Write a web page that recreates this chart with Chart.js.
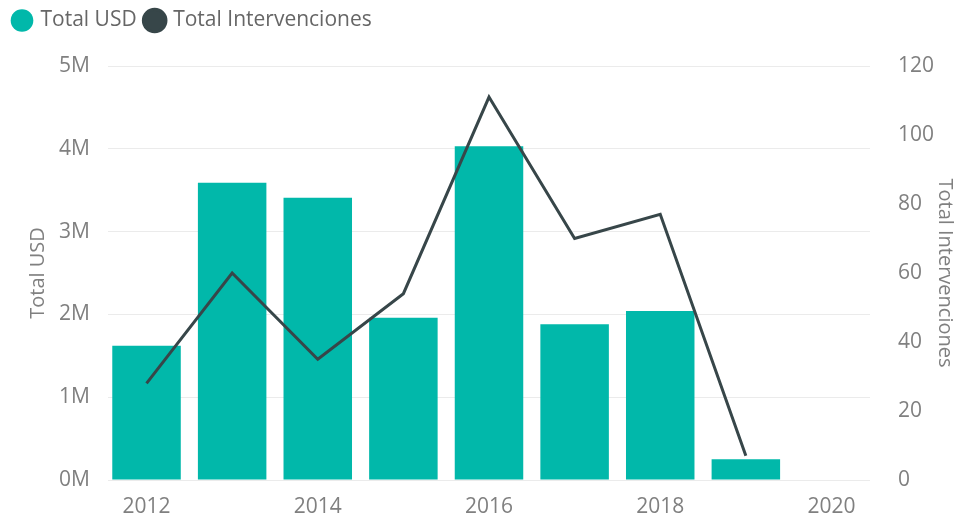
<!DOCTYPE html>
<html>
<head>
<meta charset="utf-8">
<script src="https://cdn.jsdelivr.net/npm/chart.js@4.4.1/dist/chart.umd.min.js"></script>
<style>
  html, body { margin: 0; padding: 0; background: #fff; }
  #wrap { width: 955px; height: 519px; position: relative; }
</style>
</head>
<body>
<div id="wrap"><canvas id="chart"></canvas></div>
<script>
// datos
const years = [2012, 2013, 2014, 2015, 2016, 2017, 2018, 2019];
const totalUSD = [1.62e6, 3.59e6, 3.41e6, 1.96e6, 4.03e6, 1.88e6, 2.04e6, 0.25e6];
const totalIntervenciones = [28, 60, 35, 54, 111, 70, 77, 7];
const xTicks = [2012, 2014, 2016, 2018, 2020];
const usdTicks = [0, 1e6, 2e6, 3e6, 4e6, 5e6];
const intTicks = [0, 20, 40, 60, 80, 100, 120];

const TEAL = '#01B8AA';
const DARK = '#374649';
const GREY = '#808080';
const FONT = "'Open Sans', 'Noto Sans', sans-serif";

const pts = (vals) => years.map((y, i) => ({x: y, y: vals[i]}));

// espacio extra bajo la leyenda
const legendGap = {
  id: 'legendGap',
  afterInit(chart) {
    const fit = chart.legend.fit;
    chart.legend.fit = function () { fit.call(this); this.height += 25; };
  }
};

new Chart(document.getElementById('chart'), {
  type: 'bar',
  data: {
    datasets: [
      {label: 'Total USD', data: pts(totalUSD), backgroundColor: TEAL, borderWidth: 0,
       barPercentage: 0.8, categoryPercentage: 1, yAxisID: 'y', order: 2},
      {label: 'Total Intervenciones', type: 'line', data: pts(totalIntervenciones),
       borderColor: DARK, backgroundColor: DARK, borderWidth: 3, pointRadius: 0,
       tension: 0, yAxisID: 'y1', order: 1}
    ]
  },
  plugins: [legendGap],
  options: {
    responsive: true,
    maintainAspectRatio: false,
    animation: false,
    layout: {padding: {top: 0, left: 4, right: 0, bottom: 0}},
    plugins: {
      tooltip: {enabled: false},
      legend: {
        position: 'top', align: 'start',
        labels: {
          usePointStyle: true, pointStyle: 'circle', boxWidth: 16, boxHeight: 16, padding: 10,
          color: '#666', font: {family: FONT, size: 21},
          sort: (a, b) => a.datasetIndex - b.datasetIndex
        }
      }
    },
    scales: {
      x: {
        type: 'linear', min: 2011.55, max: 2020.45, offset: false,
        afterBuildTicks: s => { s.ticks = xTicks.map(v => ({value: v})); },
        afterFit: s => { s.height = 39; },
        grid: {display: false},
        border: {display: false},
        ticks: {color: GREY, font: {family: FONT, size: 21}, padding: 6, callback: v => String(v)}
      },
      y: {
        position: 'left', min: 0, max: 5e6,
        afterBuildTicks: s => { s.ticks = usdTicks.map(v => ({value: v})); },
        afterFit: s => { s.width = 104; },
        grid: {color: '#ebebeb', drawTicks: false},
        border: {display: false},
        ticks: {color: GREY, font: {family: FONT, size: 21}, padding: 18, callback: v => (v / 1e6) + 'M'},
        title: {display: true, text: 'Total USD', color: GREY, font: {family: FONT, size: 20, lineHeight: 1}, padding: {top: 24, bottom: 0}}
      },
      y1: {
        position: 'right', min: 0, max: 120,
        afterBuildTicks: s => { s.ticks = intTicks.map(v => ({value: v})); },
        afterFit: s => { s.width = 85; },
        grid: {display: false},
        border: {display: false},
        ticks: {color: GREY, font: {family: FONT, size: 21}, padding: 20},
        title: {display: true, text: 'Total Intervenciones', color: GREY, font: {family: FONT, size: 20, lineHeight: 1}, padding: {top: 0, bottom: 0}}
      }
    }
  }
});
</script>
</body>
</html>
